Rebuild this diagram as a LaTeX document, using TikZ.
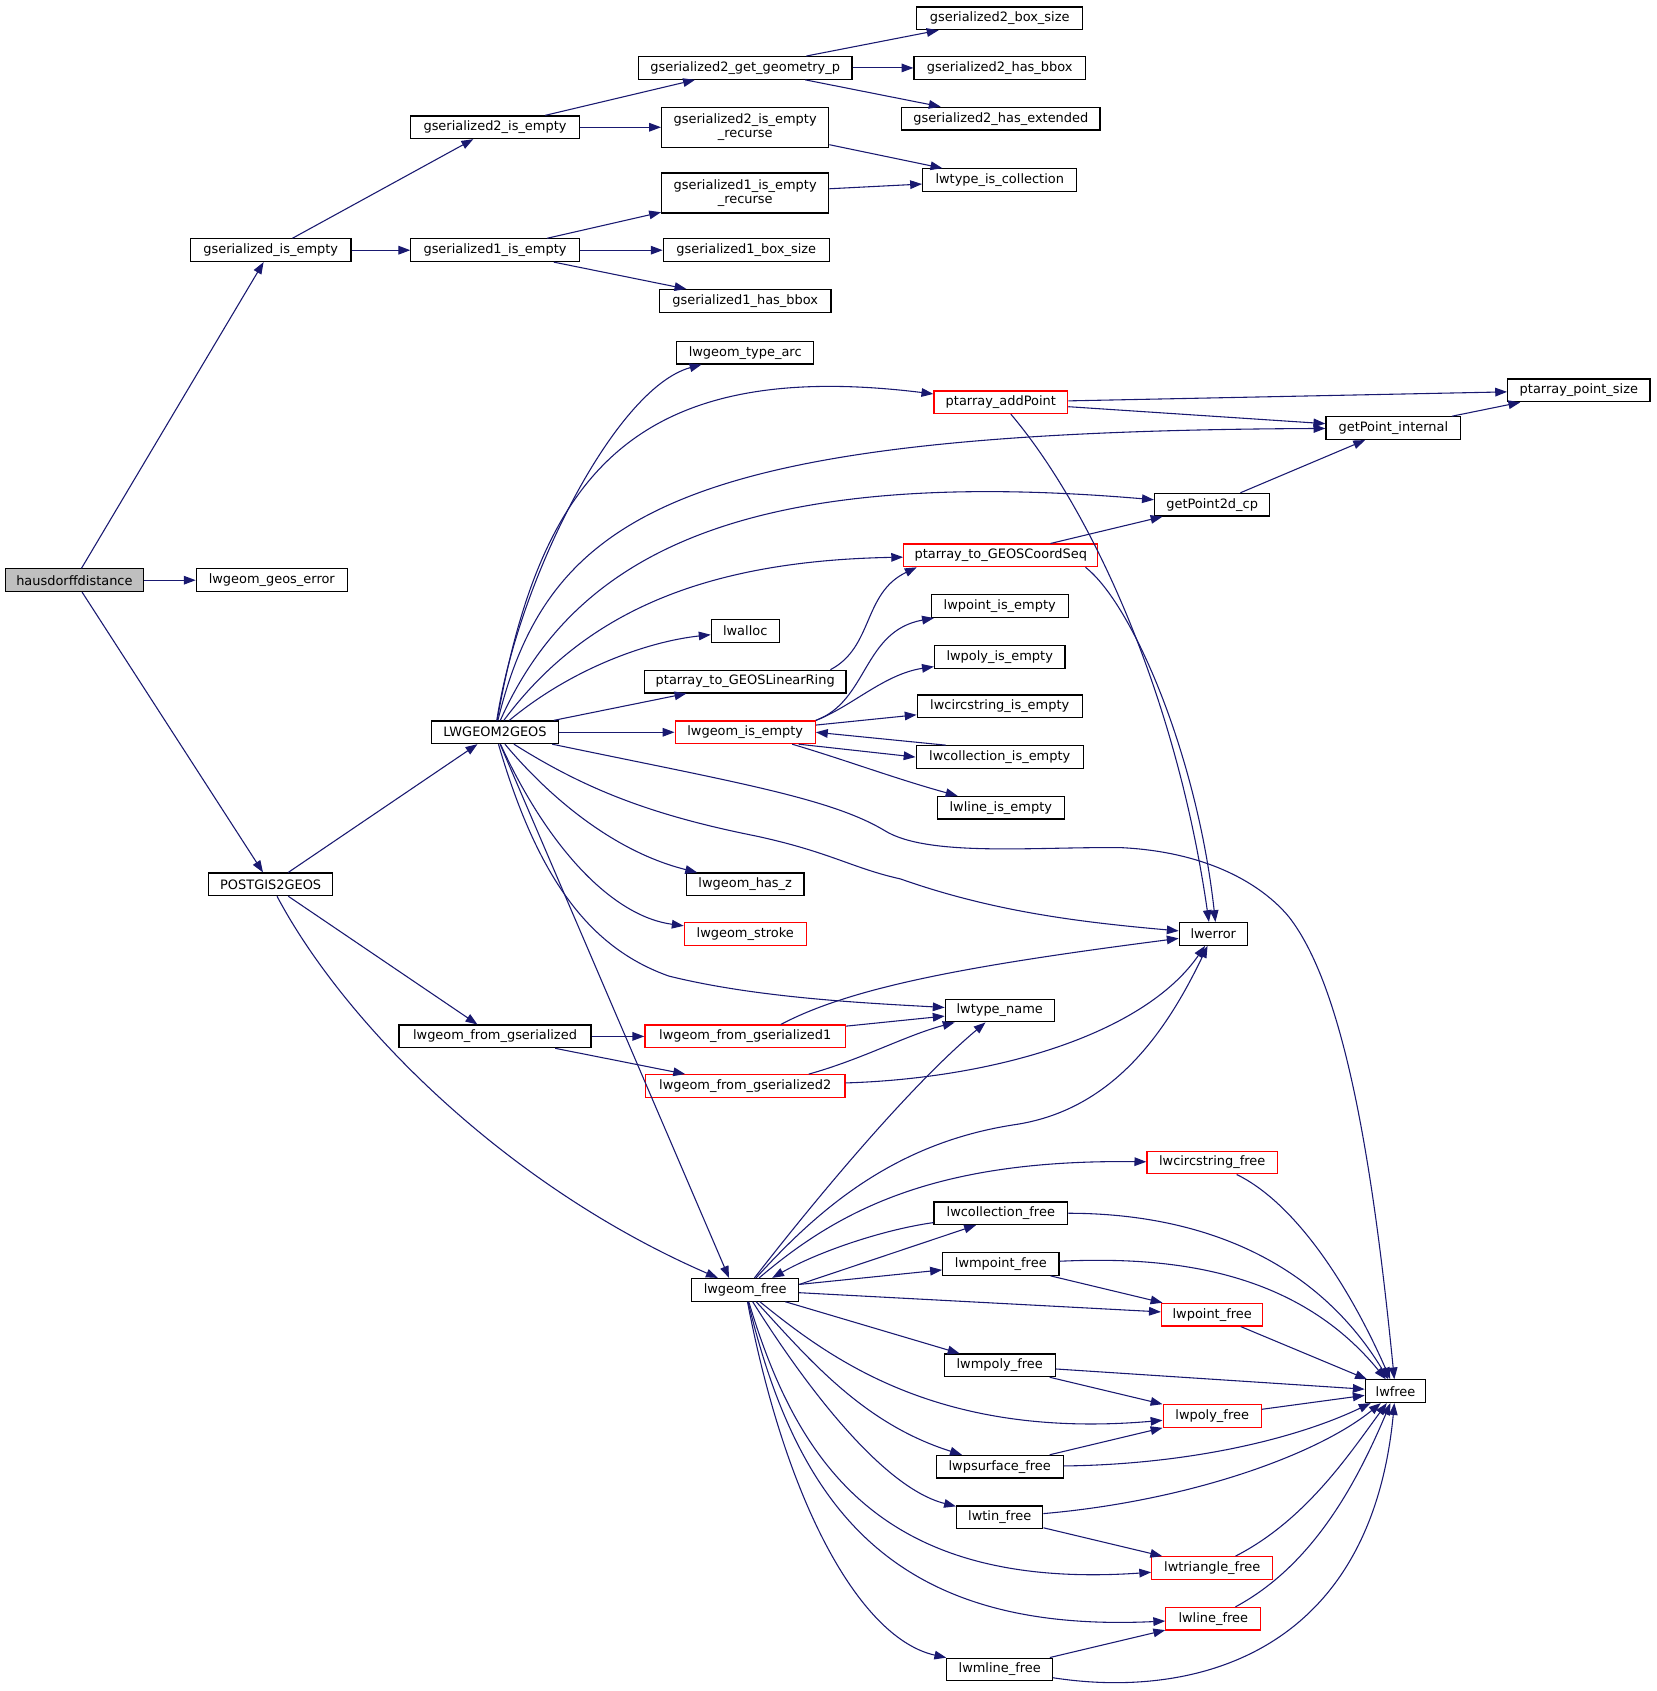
\documentclass[tikz,border=0pt]{standalone}
\usepackage{fontspec}
\setmainfont{DejaVu Sans}
\usepackage{xcolor}
\usepackage{tikz}
\usetikzlibrary{arrows.meta}
\definecolor{edgeblue}{HTML}{191970}
\definecolor{rootgray}{HTML}{BFBFBF}
\tikzstyle{fn} = [rectangle, draw=black, fill=white, line width=1.1, minimum height=21, inner sep=1, align=center, font=\fontsize{12}{13}\selectfont]
\tikzstyle{fnred} = [fn, draw=red]
\tikzstyle{fnroot} = [fn, fill=rootgray]
\tikzstyle{fntwo} = [fn, minimum height=37]
\tikzstyle{arrow} = [draw=edgeblue, line width=1, -{Triangle[length=11pt,width=8pt]}]

\begin{document}
\begin{tikzpicture}[x=1pt, y=-1pt]
   \useasboundingbox (0,0) rectangle (1536,1568);
   \node (hd) [fnroot, minimum width=128] at (69,538) {hausdorffdistance};
   \node (lgge) [fn, minimum width=140] at (252,538) {lwgeom\_geos\_error};
   \node (gie) [fn, minimum width=149] at (251,232) {gserialized\_is\_empty};
   \node (g2ie) [fn, minimum width=156] at (459,118) {gserialized2\_is\_empty};
   \node (g1ie) [fn, minimum width=156] at (459,232) {gserialized1\_is\_empty};
   \node (g2ggp) [fn, minimum width=198] at (691,63) {gserialized2\_get\_geometry\_p};
   \node (g2ier) [fntwo, minimum width=155] at (691,118) {gserialized2\_is\_empty\\\_recurse};
   \node (g1ier) [fntwo, minimum width=155] at (691,179) {gserialized1\_is\_empty\\\_recurse};
   \node (g1bs) [fn, minimum width=154] at (692,232) {gserialized1\_box\_size};
   \node (g1hb) [fn, minimum width=159] at (691,279) {gserialized1\_has\_bbox};
   \node (g2bs) [fn, minimum width=154] at (927,17) {gserialized2\_box\_size};
   \node (g2hb) [fn, minimum width=159] at (927,63) {gserialized2\_has\_bbox};
   \node (g2he) [fn, minimum width=184] at (928,110) {gserialized2\_has\_extended};
   \node (ltic) [fn, minimum width=143] at (927,167) {lwtype\_is\_collection};
   \node (lgta) [fn, minimum width=127] at (691,327) {lwgeom\_type\_arc};
   \node (pap) [fnred, minimum width=124] at (928,373) {ptarray\_addPoint};
   \node (pps) [fn, minimum width=132] at (1464,362) {ptarray\_point\_size};
   \node (gpi) [fn, minimum width=125] at (1292,397) {getPoint\_internal};
   \node (gp2) [fn, minimum width=107] at (1124,468) {getPoint2d\_cp};
   \node (ptgcs) [fnred, minimum width=180] at (928,515) {ptarray\_to\_GEOSCoordSeq};
   \node (lwalloc) [fn, minimum width=63] at (691,585) {lwalloc};
   \node (ptglr) [fn, minimum width=187] at (691,632) {ptarray\_to\_GEOSLinearRing};
   \node (lpie) [fn, minimum width=127] at (927,562) {lwpoint\_is\_empty};
   \node (lpyie) [fn, minimum width=121] at (927,609) {lwpoly\_is\_empty};
   \node (lcsie) [fn, minimum width=153] at (927,655) {lwcircstring\_is\_empty};
   \node (llg) [fn, minimum width=118] at (459,679) {LWGEOM2GEOS};
   \node (lie) [fnred, minimum width=130] at (691,679) {lwgeom\_is\_empty};
   \node (lcie) [fn, minimum width=155] at (927,702) {lwcollection\_is\_empty};
   \node (lle) [fn, minimum width=118] at (928,749) {lwline\_is\_empty};
   \node (p2g) [fn, minimum width=115] at (251,820) {POSTGIS2GEOS};
   \node (lhz) [fn, minimum width=109] at (691,820) {lwgeom\_has\_z};
   \node (lstr) [fnred, minimum width=113] at (691,866) {lwgeom\_stroke};
   \node (lwerror) [fn, minimum width=63] at (1125,866) {lwerror};
   \node (ltn) [fn, minimum width=101] at (927,937) {lwtype\_name};
   \node (lfg) [fn, minimum width=178] at (459,961) {lwgeom\_from\_gserialized};
   \node (lfg1) [fnred, minimum width=186] at (691,961) {lwgeom\_from\_gserialized1};
   \node (lfg2) [fnred, minimum width=185] at (691,1007) {lwgeom\_from\_gserialized2};
   \node (lcsf) [fnred, minimum width=121] at (1124,1078) {lwcircstring\_free};
   \node (lcf) [fn, minimum width=124] at (928,1125) {lwcollection\_free};
   \node (lmpf) [fn, minimum width=108] at (928,1172) {lwmpoint\_free};
   \node (lgf) [fn, minimum width=99] at (691,1196) {lwgeom\_free};
   \node (lpf) [fnred, minimum width=94] at (1124,1219) {lwpoint\_free};
   \node (lmpyf) [fn, minimum width=103] at (927,1266) {lwmpoly\_free};
   \node (lwfree) [fn, minimum width=56] at (1294,1290) {lwfree};
   \node (lpyf) [fnred, minimum width=91] at (1124,1313) {lwpoly\_free};
   \node (lpsf) [fn, minimum width=118] at (927,1360) {lwpsurface\_free};
   \node (ltinf) [fn, minimum width=80] at (927,1407) {lwtin\_free};
   \node (ltrf) [fnred, minimum width=112] at (1124,1454) {lwtriangle\_free};
   \node (llf) [fnred, minimum width=88] at (1125,1501) {lwline\_free};
   \node (lmlf) [fn, minimum width=98] at (927,1548) {lwmline\_free};

   \draw [arrow] (hd) -- (gie);
   \draw [arrow] (hd) -- (lgge);
   \draw [arrow] (hd) -- (p2g);
   \draw [arrow] (gie) -- (g2ie);
   \draw [arrow] (gie) -- (g1ie);
   \draw [arrow] (g2ie) -- (g2ggp);
   \draw [arrow] (g2ie) -- (g2ier);
   \draw [arrow] (g2ggp) -- (g2bs);
   \draw [arrow] (g2ggp) -- (g2hb);
   \draw [arrow] (g2ggp) -- (g2he);
   \draw [arrow] (g2ier) -- (ltic);
   \draw [arrow] (g1ie) -- (g1ier);
   \draw [arrow] (g1ie) -- (g1bs);
   \draw [arrow] (g1ie) -- (g1hb);
   \draw [arrow] (g1ier) -- (ltic);

   \draw [arrow] (p2g) -- (llg);
   \draw [arrow] (p2g) -- (lfg);
   \draw [arrow] (p2g) .. controls (320,950) and (470,1100) .. (lgf);

   \draw [arrow] (llg) .. controls (480,540) and (570,360) .. (lgta);
   \draw [arrow] (llg) .. controls (500,450) and (580,330) .. (pap);
   \draw [arrow] (llg) .. controls (510,470) and (640,400) .. (gpi);
   \draw [arrow] (llg) .. controls (530,520) and (680,430) .. (gp2);
   \draw [arrow] (llg) .. controls (540,570) and (650,520) .. (ptgcs);
   \draw [arrow] (llg) .. controls (530,620) and (600,595) .. (lwalloc);
   \draw [arrow] (llg) -- (ptglr);
   \draw [arrow] (llg) -- (lie);
   \draw [arrow] (llg) .. controls (680,725) and (770,740) .. (820,770) .. controls (860,795) and (960,785) .. (1040,786) .. controls (1120,790) and (1170,820) .. (1195,850) .. controls (1250,920) and (1275,1100) .. (lwfree);
   \draw [arrow] (llg) .. controls (540,730) and (600,755) .. (700,775) .. controls (770,790) and (790,805) .. (835,815) .. controls (920,845) and (1000,855) .. (lwerror);
   \draw [arrow] (llg) .. controls (510,740) and (570,790) .. (lhz);
   \draw [arrow] (llg) .. controls (510,790) and (570,850) .. (lstr);
   \draw [arrow] (llg) .. controls (500,820) and (550,880) .. (620,905) .. controls (700,925) and (800,930) .. (ltn);
   \draw [arrow] (llg) -- ([xshift=-15pt]lgf.north);

   \draw [arrow] (pap) -- (pps);
   \draw [arrow] (pap) -- (gpi);
   \draw [arrow] (pap) .. controls (1010,470) and (1090,640) .. ([xshift=-4pt]lwerror.north);
   \draw [arrow] ([xshift=-12pt]ptgcs.south east) .. controls (1050,560) and (1110,700) .. ([xshift=2pt]lwerror.north);
   \draw [arrow] (ptgcs) -- (gp2);
   \draw [arrow] (gp2) -- (gpi);
   \draw [arrow] (gpi) -- (pps);
   \draw [arrow] ([xshift=-15pt]ptglr.north east) .. controls (810,600) and (800,550) .. ([xshift=-78pt]ptgcs.south);

   \draw [arrow] (lie.north east) .. controls (805,650) and (800,585) .. (lpie);
   \draw [arrow] (lie.north east) .. controls (790,655) and (820,625) .. (lpyie);
   \draw [arrow] (lie) -- (lcsie);
   \draw [arrow] ([xshift=-16pt]lie.south east) -- (lcie.west);
   \draw [arrow] ([xshift=28pt]lcie.north west) -- (lie.east);
   \draw [arrow] ([xshift=-22pt]lie.south east) .. controls (785,705) and (830,722) .. (lle);

   \draw [arrow] (lfg) -- (lfg1);
   \draw [arrow] (lfg) -- (lfg2);
   \draw [arrow] (lfg1) -- (ltn);
   \draw [arrow] ([xshift=33pt]lfg1.north) .. controls (790,915) and (900,895) .. (lwerror);
   \draw [arrow] ([xshift=59pt]lfg2.north) .. controls (800,982) and (840,960) .. (ltn);
   \draw [arrow] (lfg2) .. controls (920,1000) and (1060,960) .. (lwerror);

   \draw [arrow] (lgf) .. controls (750,1120) and (840,1010) .. (ltn);
   \draw [arrow] (lgf) .. controls (760,1120) and (830,1060) .. (940,1043) .. controls (1030,1030) and (1080,960) .. (lwerror);
   \draw [arrow] (lgf) .. controls (780,1120) and (870,1075) .. (lcsf);
   \draw [arrow] (lcf) .. controls (820,1140) and (760,1160) .. ([xshift=25pt]lgf.north);
   \draw [arrow] ([yshift=5pt]lgf.east) -- ([xshift=-23pt]lcf.south);
   \draw [arrow] ([yshift=5pt]lgf.east) -- (lmpf);
   \draw [arrow] (lgf) -- (lpf);
   \draw [arrow] (lmpf) -- (lpf);
   \draw [arrow] (lmpf) .. controls (1080,1165) and (1200,1175) .. (lwfree);
   \draw [arrow] (lcf) .. controls (1100,1125) and (1215,1160) .. (lwfree);
   \draw [arrow] (lcsf) .. controls (1200,1115) and (1250,1190) .. (lwfree);
   \draw [arrow] (lpf) -- (lwfree);
   \draw [arrow] (lgf) -- (lmpyf);
   \draw [arrow] (lmpyf) -- (lwfree);
   \draw [arrow] (lmpyf) -- (lpyf);
   \draw [arrow] (lgf) .. controls (770,1260) and (870,1335) .. (lpyf);
   \draw [arrow] (lpyf) -- (lwfree);
   \draw [arrow] (lgf) .. controls (750,1260) and (800,1320) .. (lpsf);
   \draw [arrow] (lpsf) -- (lpyf);
   \draw [arrow] (lpsf) .. controls (1100,1358) and (1200,1335) .. (lwfree);
   \draw [arrow] (lgf) .. controls (750,1290) and (820,1380) .. (ltinf);
   \draw [arrow] (ltinf) -- (ltrf);
   \draw [arrow] (ltinf) .. controls (1100,1392) and (1220,1350) .. (lwfree);
   \draw [arrow] (lgf) .. controls (740,1360) and (820,1475) .. (ltrf);
   \draw [arrow] (ltrf) .. controls (1210,1410) and (1250,1350) .. (lwfree);
   \draw [arrow] (lgf) .. controls (740,1400) and (830,1515) .. (llf);
   \draw [arrow] (llf) .. controls (1220,1450) and (1260,1370) .. (lwfree);
   \draw [arrow] (lgf) .. controls (730,1400) and (800,1520) .. (lmlf);
   \draw [arrow] (lmlf) -- (llf);
   \draw [arrow] (lmlf) .. controls (1100,1575) and (1270,1540) .. (lwfree);
\end{tikzpicture}
\end{document}
